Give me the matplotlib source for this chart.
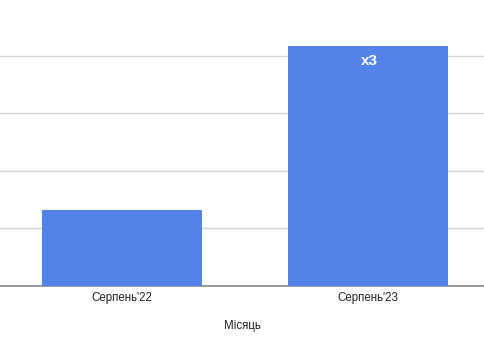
import matplotlib.pyplot as plt

months = ["Серпень'22", "Серпень'23"]
values = [1.32, 4.17]
growth_label = "x3"

plt.rcParams['font.family'] = ['Liberation Sans', 'DejaVu Sans']

fig = plt.figure(figsize=(4.84, 3.37), dpi=100)
ax = fig.add_axes([0, 51 / 337, 1, 286 / 337])

x = list(range(len(months)))
bars = ax.bar(x, values, width=0.65, color='#5383e8', zorder=3)

ax.set_xlim(-0.496, 1.472)
ax.set_ylim(0, 4.965)
ax.set_yticks([1, 2, 3, 4])
ax.yaxis.grid(True, color='#d6d6d6', linewidth=1)
ax.tick_params(axis='y', left=False, labelleft=False)
ax.tick_params(axis='x', length=0, labelsize=8.3, pad=4)
ax.set_xticks(x)
ax.set_xticklabels(months, color='#222222')

for s in ['top', 'right', 'left']:
    ax.spines[s].set_visible(False)
ax.spines['bottom'].set_color('#888888')
ax.spines['bottom'].set_linewidth(1.2)

ax.set_xlabel('Місяць', fontsize=8.3, color='#222222', labelpad=12)

ax.text(x[1] + 0.005, values[1] - 0.26, growth_label, color='white', fontsize=11,
        fontweight='bold', ha='center', va='center', zorder=4)

fig.savefig('out.png', dpi=100)
